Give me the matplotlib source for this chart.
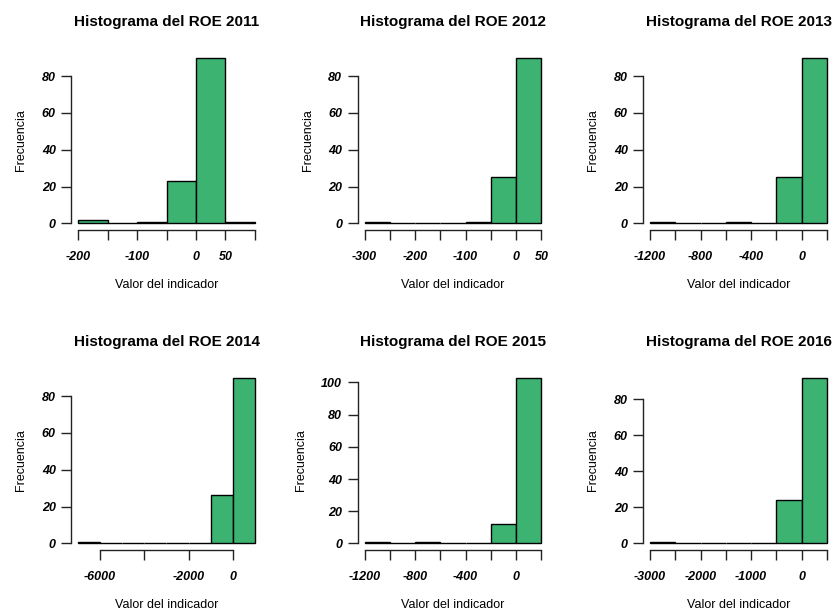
#!/usr/bin/env python3
"""Histogramas del ROE 2011-2016 (estilo R base)."""

import matplotlib

matplotlib.use("Agg")
import matplotlib.pyplot as plt

plt.rcParams["font.family"] = ["Liberation Sans", "DejaVu Sans"]

BAR_COLOR = "#3CB371"

YEARS = [2011, 2012, 2013, 2014, 2015, 2016]

# bin edges (R hist breaks) and counts per year
EDGES_2011 = [-200, -150, -100, -50, 0, 50, 100]
COUNTS_2011 = [2, 0, 1, 23, 90, 1]
EDGES_2012 = [-300, -250, -200, -150, -100, -50, 0, 50]
COUNTS_2012 = [1, 0, 0, 0, 1, 25, 90]
EDGES_2013 = [-1200, -1000, -800, -600, -400, -200, 0, 200]
COUNTS_2013 = [1, 0, 0, 1, 0, 25, 90]
EDGES_2014 = [-7000, -6000, -5000, -4000, -3000, -2000, -1000, 0, 1000]
COUNTS_2014 = [1, 0, 0, 0, 0, 0, 26, 90]
EDGES_2015 = [-1200, -1000, -800, -600, -400, -200, 0, 200]
COUNTS_2015 = [1, 0, 1, 0, 0, 12, 103]
EDGES_2016 = [-3000, -2500, -2000, -1500, -1000, -500, 0, 500]
COUNTS_2016 = [1, 0, 0, 0, 0, 24, 92]

# axis ticks and the labels R kept (empty string = tick without label)
XTICKS_2011 = [-200, -150, -100, -50, 0, 50, 100]
XLABELS_2011 = ["-200", "", "-100", "", "0", "50", ""]
XTICKS_2012 = [-300, -250, -200, -150, -100, -50, 0, 50]
XLABELS_2012 = ["-300", "", "-200", "", "-100", "", "0", "50"]
XTICKS_2013 = [-1200, -1000, -800, -600, -400, -200, 0, 200]
XLABELS_2013 = ["-1200", "", "-800", "", "-400", "", "0", ""]
XTICKS_2014 = [-6000, -4000, -2000, 0]
XLABELS_2014 = ["-6000", "", "-2000", "0"]
XTICKS_2015 = [-1200, -1000, -800, -600, -400, -200, 0, 200]
XLABELS_2015 = ["-1200", "", "-800", "", "-400", "", "0", ""]
XTICKS_2016 = [-3000, -2500, -2000, -1500, -1000, -500, 0, 500]
XLABELS_2016 = ["-3000", "", "-2000", "", "-1000", "", "0", ""]

YTICKS_DEFAULT = [0, 20, 40, 60, 80]
YTICKS_2015 = [0, 20, 40, 60, 80, 100]

PANELS = [
    (2011, EDGES_2011, COUNTS_2011, XTICKS_2011, XLABELS_2011, YTICKS_DEFAULT),
    (2012, EDGES_2012, COUNTS_2012, XTICKS_2012, XLABELS_2012, YTICKS_DEFAULT),
    (2013, EDGES_2013, COUNTS_2013, XTICKS_2013, XLABELS_2013, YTICKS_DEFAULT),
    (2014, EDGES_2014, COUNTS_2014, XTICKS_2014, XLABELS_2014, YTICKS_DEFAULT),
    (2015, EDGES_2015, COUNTS_2015, XTICKS_2015, XLABELS_2015, YTICKS_2015),
    (2016, EDGES_2016, COUNTS_2016, XTICKS_2016, XLABELS_2016, YTICKS_DEFAULT),
]

FIG_W, FIG_H = 832, 611
COL_LEFT = [71, 357.5, 643]
PLOT_W = 191
ROW_TOP = [51, 371]
PLOT_H = 179


def draw_panel(ax, year, edges, counts, xticks, xlabels, yticks):
    widths = [b - a for a, b in zip(edges[:-1], edges[1:])]
    ax.bar(edges[:-1], counts, width=widths, align="edge",
           color=BAR_COLOR, edgecolor="black", linewidth=1.0)

    span = edges[-1] - edges[0]
    ax.set_xlim(edges[0] - 0.04 * span, edges[-1] + 0.04 * span)
    top = max(counts)
    ax.set_ylim(-0.04 * top, top * 1.04)

    for side in ("top", "right"):
        ax.spines[side].set_visible(False)
    ax.spines["left"].set_bounds(yticks[0], yticks[-1])
    ax.spines["bottom"].set_bounds(xticks[0], xticks[-1])
    for side in ("left", "bottom"):
        ax.spines[side].set_linewidth(1.0)
        ax.spines[side].set_color("#222222")

    ax.set_xticks(xticks)
    ax.set_xticklabels(xlabels)
    ax.set_yticks(yticks)
    ax.tick_params(axis="both", length=7, width=1.0, color="#222222",
                   labelsize=9, pad=4)
    for lab in ax.get_xticklabels() + ax.get_yticklabels():
        lab.set_fontweight("bold")
        lab.set_fontstyle("italic")
    ax.tick_params(axis="x", pad=8)

    ax.set_title(f"Histograma del ROE {year}", fontsize=11,
                 fontweight="bold", pad=18)
    ax.set_xlabel("Valor del indicador", fontsize=9, labelpad=12)
    ax.set_ylabel("Frecuencia", fontsize=9, labelpad=10.5)


def main():
    fig = plt.figure(figsize=(FIG_W / 100, FIG_H / 100), dpi=100)
    for i, (year, edges, counts, xticks, xlabels, yticks) in enumerate(PANELS):
        row, col = divmod(i, 3)
        left = COL_LEFT[col] / FIG_W
        bottom = 1 - (ROW_TOP[row] + PLOT_H) / FIG_H
        ax = fig.add_axes([left, bottom, PLOT_W / FIG_W, PLOT_H / FIG_H])
        draw_panel(ax, year, edges, counts, xticks, xlabels, yticks)
    fig.savefig("out.png", dpi=100, facecolor="white")
    plt.close(fig)


if __name__ == "__main__":
    main()
